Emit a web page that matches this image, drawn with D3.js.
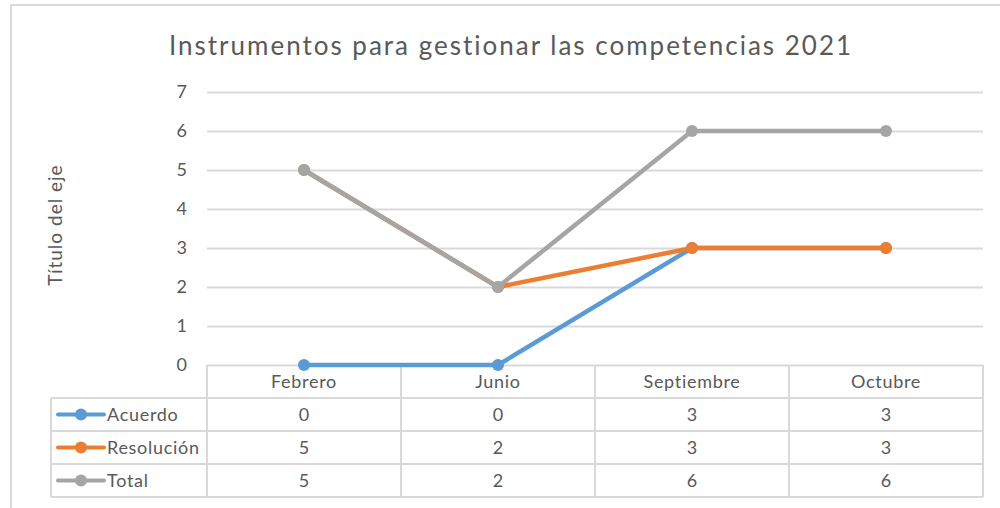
<!DOCTYPE html>
<html>
<head>
<meta charset="utf-8">
<script src="https://cdn.jsdelivr.net/npm/d3@7"></script>
<style>
  body { margin: 0; background: #ffffff; }
  text { font-family: Lato, "Open Sans", sans-serif; fill: #595959; }
</style>
</head>
<body>
<script>
//chart data
var categories = ["Febrero", "Junio", "Septiembre", "Octubre"];
var seriesNames = ["Acuerdo", "Resolución", "Total"];
var acuerdo = [0, 0, 3, 3];
var resolucion = [5, 2, 3, 3];
var total = [5, 2, 6, 6];
var yTicks = [0, 1, 2, 3, 4, 5, 6, 7];
var colors = ["#5B9BD5", "#ED7D31", "#A5A5A5"];

var series = [acuerdo, resolucion, total];

//layout
var W = 1000, H = 508;
var plot = {left: 207, right: 983, top: 92, bottom: 365};
var tableLeft = 51;
var rowH = 33;
var gridColor = "#D9D9D9";

var xScale = d3.scaleBand()
               .domain(categories)
               .range([plot.left, plot.right]);

var yScale = d3.scaleLinear()
               .domain([0, 7])
               .range([plot.bottom, plot.top]);

var svg = d3.select("body")
            .append("svg")
            .attr("width", W)
            .attr("height", H);

    //outer frame of the chart area
    svg.append("path")
       .attr("d", "M 11 " + H + " L 11 5 L " + W + " 5")
       .attr("fill", "none")
       .attr("stroke", gridColor)
       .attr("stroke-width", 2);

    //title
    svg.append("text")
       .attr("x", 511)
       .attr("y", 55)
       .attr("text-anchor", "middle")
       .style("font-size", "26px")
       .style("letter-spacing", "2px")
       .text("Instrumentos para gestionar las competencias 2021");

    //y axis title
    svg.append("text")
       .attr("transform", "translate(62,225) rotate(-90)")
       .attr("text-anchor", "middle")
       .style("font-size", "19px")
       .style("letter-spacing", "1px")
       .text("Título del eje");

//y axis with gridlines
var yAxis = d3.axisLeft(yScale)
              .tickValues(yTicks)
              .tickFormat(d3.format("d"))
              .tickSize(-(plot.right - plot.left))
              .tickPadding(20);

var gy = svg.append("g")
            .attr("transform", "translate(" + plot.left + ",0)")
            .call(yAxis);

    gy.select(".domain").remove();
    gy.selectAll(".tick line")
      .attr("stroke", gridColor)
      .attr("stroke-width", 2);
    gy.selectAll(".tick text")
      .attr("fill", "#595959")
      .style("font-family", "Lato, 'Open Sans', sans-serif")
      .style("font-size", "18px");

//data table under the plot
var tableBottom = plot.bottom + rowH * (series.length + 1);
var tbl = svg.append("g")
             .attr("fill", "none")
             .attr("stroke", gridColor)
             .attr("stroke-width", 2);

    //horizontal rules
    tbl.selectAll("line.h")
       .data(d3.range(1, series.length + 2))
       .enter()
       .append("line")
       .attr("x1", tableLeft)
       .attr("x2", plot.right)
       .attr("y1", function(d){ return plot.bottom + d * rowH; })
       .attr("y2", function(d){ return plot.bottom + d * rowH; });

    //vertical rules
    tbl.selectAll("line.v")
       .data(categories.concat(["end"]))
       .enter()
       .append("line")
       .attr("x1", function(d, i){ return plot.left + i * xScale.bandwidth(); })
       .attr("x2", function(d, i){ return plot.left + i * xScale.bandwidth(); })
       .attr("y1", plot.bottom)
       .attr("y2", tableBottom);

    tbl.append("line")
       .attr("x1", tableLeft)
       .attr("x2", tableLeft)
       .attr("y1", plot.bottom + rowH)
       .attr("y2", tableBottom);

    //category labels
    svg.append("g")
       .selectAll("text")
       .data(categories)
       .enter()
       .append("text")
       .attr("x", function(d){ return xScale(d) + xScale.bandwidth() / 2; })
       .attr("y", plot.bottom + rowH / 2 + 6)
       .attr("text-anchor", "middle")
       .style("font-size", "18px")
       .style("letter-spacing", "0.7px")
       .text(function(d){ return d; });

    //values
    series.forEach(function(s, si){
        svg.append("g")
           .selectAll("text")
           .data(s)
           .enter()
           .append("text")
           .attr("x", function(d, i){ return xScale(categories[i]) + xScale.bandwidth() / 2; })
           .attr("y", plot.bottom + rowH * (si + 1) + rowH / 2 + 6)
           .attr("text-anchor", "middle")
           .style("font-size", "18px")
           .text(function(d){ return d; });
    });

    //legend keys inside the table
var leg = svg.append("g")
             .selectAll("g")
             .data(seriesNames)
             .enter()
             .append("g")
             .attr("transform", function(d, i){
                 return "translate(0," + (plot.bottom + rowH * (i + 1) + rowH / 2) + ")";
             });

    leg.append("line")
       .attr("x1", 58)
       .attr("x2", 104)
       .attr("stroke", function(d, i){ return colors[i]; })
       .attr("stroke-width", 4)
       .attr("stroke-linecap", "round");

    leg.append("circle")
       .attr("cx", 81)
       .attr("r", 6)
       .attr("fill", function(d, i){ return colors[i]; });

    leg.append("text")
       .attr("x", 107)
       .attr("y", 6)
       .style("font-size", "18px")
       .style("letter-spacing", "0.7px")
       .text(function(d){ return d; });

//lines
var line = d3.line()
             .x(function(d, i){ return xScale(categories[i]) + xScale.bandwidth() / 2; })
             .y(function(d){ return yScale(d); });

var g1 = svg.append("g");

    series.forEach(function(s, si){
        g1.append("path")
          .attr("d", line(s))
          .attr("fill", "none")
          .attr("stroke", colors[si])
          .attr("stroke-width", 4.5)
          .attr("stroke-linejoin", "round")
          .attr("stroke-linecap", "round");

        g1.append("g")
          .selectAll("circle")
          .data(s)
          .enter()
          .append("circle")
          .attr("cx", function(d, i){ return xScale(categories[i]) + xScale.bandwidth() / 2; })
          .attr("cy", function(d){ return yScale(d); })
          .attr("r", 6)
          .attr("fill", colors[si]);
    });
</script>
</body>
</html>
